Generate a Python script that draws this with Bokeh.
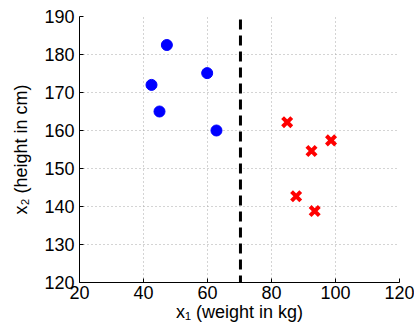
from bokeh.plotting import figure
from bokeh.models import Range1d, FixedTicker
from bokeh.embed import file_html
from bokeh.resources import INLINE

# data
blue_x = [47.3, 42.5, 45.0, 59.9, 62.8]
blue_y = [182.5, 172.0, 165.0, 175.1, 160.0]
red_x = [84.9, 92.5, 98.6, 87.7, 93.5]
red_y = [162.2, 154.6, 157.4, 142.7, 138.8]
boundary_x = 70.3
x_ticks = [20, 40, 60, 80, 100, 120]
y_ticks = [120, 130, 140, 150, 160, 170, 180, 190]

FONT = "Liberation Sans"

p = figure(width=414, height=332, output_backend="svg", toolbar_location=None,
           x_range=Range1d(x_ticks[0], x_ticks[-1]), y_range=Range1d(y_ticks[0], y_ticks[-1]),
           min_border_left=79, min_border_right=15, min_border_top=16, min_border_bottom=50)
p.outline_line_color = None
p.background_fill_color = "white"
p.border_fill_color = "white"

for ax in (p.xaxis[0], p.yaxis[0]):
    ax.major_label_text_font = FONT
    ax.major_label_text_font_size = "18px"
    ax.major_label_text_color = "black"
    ax.axis_label_text_font = FONT
    ax.axis_label_text_font_size = "18px"
    ax.axis_label_text_font_style = "normal"
    ax.axis_label_text_color = "black"
    ax.major_tick_in = 4
    ax.major_tick_out = 0
    ax.minor_tick_line_color = None
    ax.axis_line_color = "black"
    ax.major_tick_line_color = "black"
p.xaxis.ticker = FixedTicker(ticks=x_ticks)
p.yaxis.ticker = FixedTicker(ticks=y_ticks)
p.xaxis.axis_label = "x\u2081 (weight in kg)"
p.yaxis.axis_label = "x\u2082 (height in cm)"
p.xaxis.major_label_standoff = 3
p.yaxis.major_label_standoff = 5
p.xaxis.axis_label_standoff = 0
p.yaxis.axis_label_standoff = 10

for g in (p.xgrid, p.ygrid):
    g.grid_line_color = "#a8a8a8"
    g.grid_line_dash = "1 3"
    g.grid_line_width = 1

# decision boundary
p.segment(x0=[boundary_x], y0=[y_ticks[0] - 5], x1=[boundary_x], y1=[y_ticks[-1] + 5],
          line_color="black", line_width=3, line_dash="10 6")

p.scatter(blue_x, blue_y, marker="circle", size=11, fill_color="#0000ff", line_color="#0000ff")
p.scatter(red_x, red_y, marker="x", size=13, line_color="#ff0000", line_width=4)

open("out.html", "w").write(file_html(p, INLINE))
